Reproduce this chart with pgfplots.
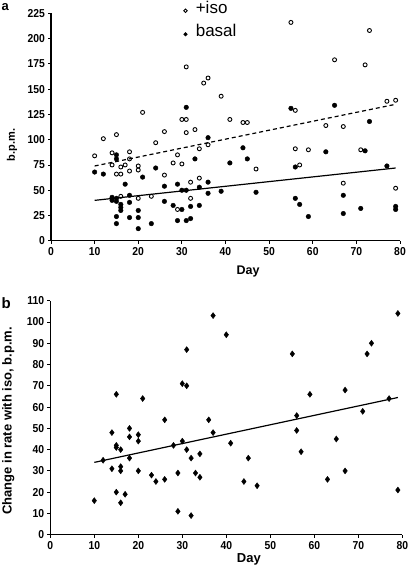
\documentclass[border=0pt]{standalone}
\usepackage{pgfplots}
\pgfplotsset{compat=1.18}
\usepackage{fontspec}
\setmainfont{Liberation Sans}

\pgfplotstableread{
d v
10 84
12 101
15 105
14 87
14 75
15 66
16 66
16 73
17 75
18 81
18 88
18 69
20 74
20 70
16 44
21 127
20 42
23 44
24 97
26 108
26 65
29 85
28 77
30 76
29 31
30 120
31 120
31 172
31 107
32 42
32 58
33 110
34 91
34 62
35 156
36 161
36 95
39 143
41 120
44 117
45 117
47 71
55 216
56 129
56 91
57 75
59 90
63 114
65 179
67 113
67 57
71 90
72 174
73 208
77 138
79 139
79 52
}\isotable

\pgfplotstableread{
d v
10 68
12 66
15 85
15 81
14 43
14 40
15 42
15 39
16 36
16 33
16 30
15 24
15 17
17 56
18 45
18 38
18 23
20 30
20 23
20 12
21 63
23 17
24 72
26 54
26 39
28 35
29 56
29 20
30 50
30 31
31 132
31 50
31 20
32 22
32 34
33 81
34 53
34 35
36 102
36 58
36 47
39 49
41 77
44 92
45 81
47 48
55 131
56 73
56 42
57 36
59 24
63 88
65 134
67 45
67 27
71 32
72 89
73 118
77 74
79 34
79 31
}\basaltable

\pgfplotstableread{
d v
10 16
12 35
14 48
14 31
15 66
15 42
15 41
16 40
16 32
16 30
15 20
16 15
17 19
18 50
18 46
18 36
20 47
20 44
20 30
21 64
23 28
24 25
26 54
26 26
28 42
29 29
29 11
30 71
31 70
31 87
30 44
31 40
32 36
32 9
33 29
34 27
34 38
36 54
37 103
37 48
40 94
41 43
44 25
45 36
47 23
55 85
56 56
56 49
57 39
59 66
63 26
65 45
67 68
67 30
71 58
72 85
73 90
77 64
79 104
79 21
}\difftable

\pgfplotsset{
  common/.style={
    scale only axis,
    anchor=south west,
    clip=false,
    axis x line*=bottom,
    axis y line*=left,
    axis line style={line width=1.2pt, black},
    tick style={line width=0.9pt, black},
    tick align=outside,
    major tick length=3pt,
    xmin=0, xmax=80,
    xtick={0,10,...,80},
    /pgf/number format/assume math mode=true,
    tick label style={font=\bfseries\fontsize{11.5}{13}\selectfont, xscale=0.9},
  },
  legimg/.style={legend image code/.code={\draw[##1] plot coordinates {(0pt,-2pt)};}},
}

\begin{document}
\begin{tikzpicture}
\useasboundingbox (0pt,0pt) rectangle (410pt,-568pt);

\node[anchor=base west, inner sep=0pt, font=\bfseries\fontsize{13}{15}\selectfont] at (1.5pt,-10pt) {a};
\node[anchor=base west, inner sep=0pt, font=\bfseries\fontsize{15}{17}\selectfont] at (1.5pt,-308.3pt) {b};

\begin{axis}[common,
  at={(51pt,-240.8pt)},
  width=349pt, height=227.5pt,
  ymin=0, ymax=225,
  ytick={0,25,...,225},
  xlabel={Day},
  xlabel style={font=\bfseries\fontsize{12.5}{14}\selectfont, at={(axis description cs:0.565,-0.148)}, anchor=base},
  ylabel={b.p.m.},
  ylabel style={font=\bfseries\fontsize{11}{13}\selectfont, at={(axis description cs:-0.112,0.421)}, anchor=center},
  legend style={draw=none, fill=none, inner sep=0pt,
    at={(axis description cs:0.3797,1.0558)}, anchor=north west,
    font=\fontsize{17}{19}\selectfont,
    nodes={inner sep=0pt, text height=12.2pt, text depth=3.6pt},
    /tikz/column sep=8.5pt, /tikz/row sep=7.8pt},
  legend cell align=left,
  legend image post style={mark size=1.8pt},
]
\addplot[only marks, legimg, mark=o, mark size=2pt, black, mark options={line width=0.9pt, fill=white}] table[x=d,y=v] {\isotable};
\addlegendentry{+iso}
\addplot[only marks, legimg, mark=*, mark size=2.3pt, black] table[x=d,y=v] {\basaltable};
\addlegendentry{basal}
\addplot[forget plot, black, line width=1.2pt, dash pattern=on 4pt off 3pt] coordinates {(10,74) (79,135)};
\addplot[forget plot, black, line width=1.2pt] coordinates {(10,40) (79,72)};
\end{axis}

\begin{axis}[common,
  at={(50.3pt,-534.7pt)},
  width=352pt, height=234pt,
  ymin=0, ymax=110,
  ytick={0,10,...,110},
  xlabel={Day},
  xlabel style={font=\bfseries\fontsize{13}{15}\selectfont, at={(axis description cs:0.564,-0.12)}, anchor=base},
  ylabel={Change in rate with iso, b.p.m.},
  ylabel style={font=\bfseries\fontsize{13}{15}\selectfont, at={(axis description cs:-0.119,0.486)}, anchor=center},
]
\addplot[only marks, mark=diamond*, mark size=3pt, black] table[x=d,y=v] {\difftable};
\addplot[black, line width=1.2pt] coordinates {(10,34) (79,64.5)};
\end{axis}
\end{tikzpicture}
\end{document}
